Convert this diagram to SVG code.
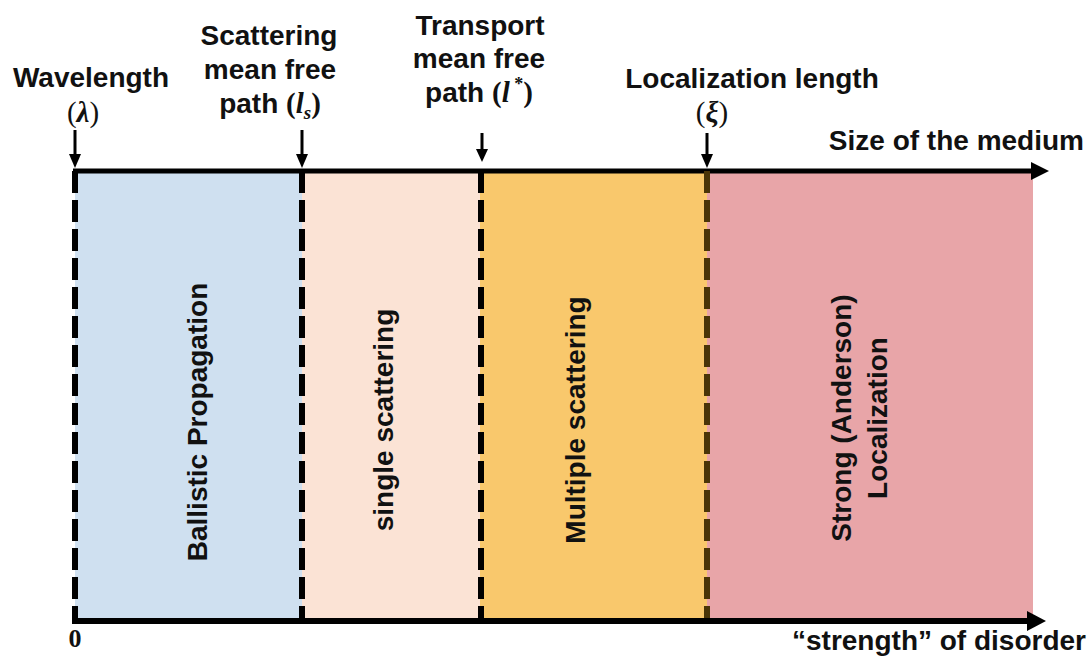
<svg xmlns="http://www.w3.org/2000/svg" width="1089" height="664" viewBox="0 0 1089 664">
<style>
.lbl{font-family:"Liberation Sans",Arial,sans-serif;font-weight:bold;font-size:28px;fill:#111}
.math{font-family:"Liberation Serif","Times New Roman",serif;font-size:29px;fill:#111}
.mi{font-style:italic;font-weight:bold}
.vt{font-family:"Liberation Sans",Arial,sans-serif;font-weight:bold;font-size:28px;fill:#111;text-anchor:middle}
.div{stroke:#000;stroke-width:6;stroke-dasharray:22 7;fill:none}
.tick{stroke:#000;stroke-width:3;fill:none}
.head{fill:#000}
</style>
<rect width="1089" height="664" fill="#fff"/>
<g id="regions">
<rect id="ballistic" x="75" y="171" width="227" height="450" fill="#cfe0f0"/>
<rect id="single" x="302" y="171" width="178" height="450" fill="#fbe3d5"/>
<rect id="multiple" x="480" y="171" width="227" height="450" fill="#f9c86c"/>
<rect id="strong" x="707" y="171" width="326" height="450" fill="#e8a5a8"/>
</g>
<g id="connectors">
<line x1="73" y1="171" x2="1034" y2="171" stroke="#000" stroke-width="5"/>
<polygon class="head" points="1031,162 1049,171 1031,180"/>
<line x1="72" y1="621" x2="1030" y2="621" stroke="#000" stroke-width="6"/>
<polygon class="head" points="1027,611 1046,621 1027,631"/>
<line class="div" x1="75" y1="171" x2="75" y2="618"/>
<line class="div" x1="302" y1="171" x2="302" y2="618"/>
<line class="div" x1="481" y1="171" x2="481" y2="618"/>
<line class="div" x1="707" y1="171" x2="707" y2="618" style="stroke:#4a3508"/>
<line class="tick" x1="75" y1="130" x2="75" y2="156"/>
<polygon class="head" points="69,154 81,154 75,168"/>
<line class="tick" x1="302" y1="130" x2="302" y2="156"/>
<polygon class="head" points="296,154 308,154 302,168"/>
<line class="tick" x1="482" y1="133" x2="482" y2="151"/>
<polygon class="head" points="476,149 488,149 482,162"/>
<line class="tick" x1="707" y1="133" x2="707" y2="156"/>
<polygon class="head" points="701,154 713,154 707,168"/>
</g>
<g id="wavelength">
<text class="lbl" x="91" y="87" text-anchor="middle">Wavelength</text>
<text class="math" x="83" y="122" text-anchor="middle">(<tspan class="mi">λ</tspan>)</text>
</g>
<g id="scattering-mfp">
<text class="lbl" x="269" y="45" text-anchor="middle">Scattering</text>
<text class="lbl" x="270" y="79" text-anchor="middle">mean free</text>
<text class="lbl" x="270" y="113" text-anchor="middle">path <tspan class="math">(<tspan class="mi">l</tspan><tspan class="mi" font-size="19" dy="6">s</tspan><tspan dy="-6">)</tspan></tspan></text>
</g>
<g id="transport-mfp">
<text class="lbl" x="480" y="35" text-anchor="middle">Transport</text>
<text class="lbl" x="479" y="68" text-anchor="middle">mean free</text>
<text class="lbl" x="479" y="102" text-anchor="middle">path <tspan class="math">(<tspan class="mi">l</tspan><tspan font-size="18" dy="-12"> *</tspan><tspan dy="12">)</tspan></tspan></text>
</g>
<g id="localization-length">
<text class="lbl" x="752" y="88" text-anchor="middle">Localization length</text>
<text class="math" x="712" y="122" text-anchor="middle">(<tspan class="mi">ξ</tspan>)</text>
</g>
<g id="axis-labels">
<text class="lbl" x="1084" y="150" text-anchor="end">Size of the medium</text>
<text x="75" y="647" text-anchor="middle" style="font-family:'Liberation Serif',serif;font-weight:bold;font-size:26px;fill:#111">0</text>
<text class="lbl" x="1086" y="650" text-anchor="end">“strength” of disorder</text>
</g>
<g id="label-ballistic"><text class="vt" transform="translate(207,422) rotate(-90)">Ballistic Propagation</text></g>
<g id="label-single"><text class="vt" transform="translate(393,420) rotate(-90)">single scattering</text></g>
<g id="label-multiple"><text class="vt" transform="translate(585,420) rotate(-90)">Multiple scattering</text></g>
<g id="label-strong">
<text class="vt" transform="translate(851,418) rotate(-90)">Strong (Anderson)</text>
<text class="vt" transform="translate(887,418) rotate(-90)">Localization</text>
</g>
</svg>
